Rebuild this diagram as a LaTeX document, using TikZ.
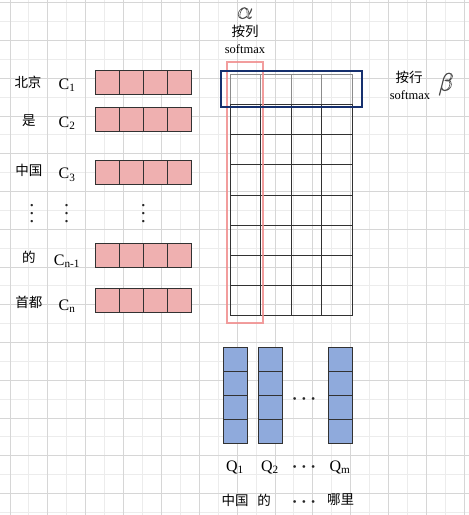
\documentclass[tikz,border=0pt]{standalone}
\usepackage{fontspec}
\setmainfont{Liberation Serif}
\newfontfamily\cjk{Noto Sans CJK SC}
\usepackage{graphicx}
\usetikzlibrary{positioning}
\definecolor{gridminor}{RGB}{236,236,236}
\definecolor{gridmajor}{RGB}{214,214,214}
\definecolor{keypink}{RGB}{239,176,176}
\definecolor{queryblue}{RGB}{143,170,220}
\definecolor{rowblue}{RGB}{22,48,110}
\definecolor{colpink}{RGB}{240,140,140}
\definecolor{cellline}{RGB}{50,50,50}
\newcommand{\hollow}[1]{\special{pdf:literal direct 1 Tr 0.6 w}#1\special{pdf:literal direct 0 Tr}}

\begin{document}
\begin{tikzpicture}[x=1pt, y=-1pt,
  word/.style={font=\cjk\fontsize{13.5}{14}\selectfont, inner sep=0pt},
  vec/.style={font=\fontsize{16}{16}\selectfont, inner sep=0pt},
  small/.style={font=\fontsize{12.5}{13}\selectfont, inner sep=0pt},
  greek/.style={inner sep=0pt, text=black!70, text height=9pt, text depth=0pt},
  dots/.style={inner sep=0pt, text=black!85},
  keycell/.style={draw=cellline, fill=keypink, line width=1pt},
  querycell/.style={draw=cellline, fill=queryblue, line width=1pt},
  cell/.style={draw=cellline, line width=1pt},
  topcell/.style={draw=black!45, line width=1pt}]
\fill[white] (0,0) rectangle (469,515);
\useasboundingbox (0,0) rectangle (469,515);
\foreach \i in {0,...,24} \draw[gridminor, line width=0.9pt] ({10+18.925*\i},0) -- ++(0,515);
\foreach \i in {0,...,27} \draw[gridminor, line width=0.9pt] (0,{2.7+18.875*\i}) -- ++(469,0);
\foreach \i in {0,2,...,24} \draw[gridmajor, line width=0.9pt] ({10+18.925*\i},0) -- ++(0,515);
\foreach \i in {0,2,...,26} \draw[gridmajor, line width=0.9pt] (0,{2.7+18.875*\i}) -- ++(469,0);

\foreach \y in {70.3,107.3,160.3,243.3,288.3}
  \foreach \i in {0,...,3} \draw[keycell] ({95.7+24*\i},\y) rectangle ++(24,24);

\node[word] (w1) at (28,82) {北京};
\node[word] (w2) at (29,121) {是};
\node[word] (w3) at (29,170) {中国};
\node[word] (w4) at (29,257) {的};
\node[word] (w5) at (29,302) {首都};
\node[vec] (c1) at (67,85) {C\textsubscript{1}};
\node[vec] (c2) at (67,123) {C\textsubscript{2}};
\node[vec] (c3) at (67,175) {C\textsubscript{3}};
\node[vec] (c4) at (67,261) {C\textsubscript{n-1}};
\node[vec] (c5) at (67,306) {C\textsubscript{n}};
\node[dots] (vd1) at (32,208) {\scalebox{2}{\boldmath$\vdots$}};
\node[dots] (vd2) at (66.7,208) {\scalebox{2}{\boldmath$\vdots$}};
\node[dots] (vd3) at (143.3,208) {\scalebox{2}{\boldmath$\vdots$}};

\foreach \i in {0,...,3} \draw[topcell] ({230.3+30.5*\i},74) rectangle ++(30.5,30.3);
\foreach \j in {0,...,6}
  \foreach \i in {0,...,3} \draw[cell] ({230.3+30.5*\i},{104.3+30.24*\j}) rectangle ++(30.5,30.24);
\draw[colpink, line width=2pt, opacity=0.85] (227,62) rectangle (263.3,322.5);
\draw[rowblue, line width=2pt] (221,71) rectangle (361.7,107.3);

\node[word] (col) at (245,31) {按列};
\node[small] (colsm) at (245,49) {softmax};
\node[word] (row) at (409,77) {按行};
\node[small] (rowsm) at (410,95) {softmax};

\foreach \x in {223.3,258.3,328.3}
  \foreach \j in {0,...,3} \draw[querycell] (\x,{347.3+24*\j}) rectangle ++(24.4,24);
\node[dots] (hd1) at (304,399) {\scalebox{1.8}{\boldmath$\cdots$}};
\node[vec] (q1) at (235,467.3) {Q\textsubscript{1}};
\node[vec] (q2) at (270,467.3) {Q\textsubscript{2}};
\node[dots] (hd2) at (304,467) {\scalebox{1.8}{\boldmath$\cdots$}};
\node[vec] (qm) at (340,467.3) {Q\textsubscript{m}};
\node[word] (t1) at (235,500) {中国};
\node[word] (t2) at (264,500) {的};
\node[dots] (hd3) at (304,502) {\scalebox{1.8}{\boldmath$\cdots$}};
\node[word] (t3) at (340.7,500) {哪里};

\node[greek, font=\fontsize{32}{32}\selectfont] (alpha) at (245,14) {\hollow{$\alpha$}};
\node[greek, font=\fontsize{26}{26}\selectfont] (beta) at (446,86) {\hollow{$\beta$}};
\end{tikzpicture}
\end{document}
